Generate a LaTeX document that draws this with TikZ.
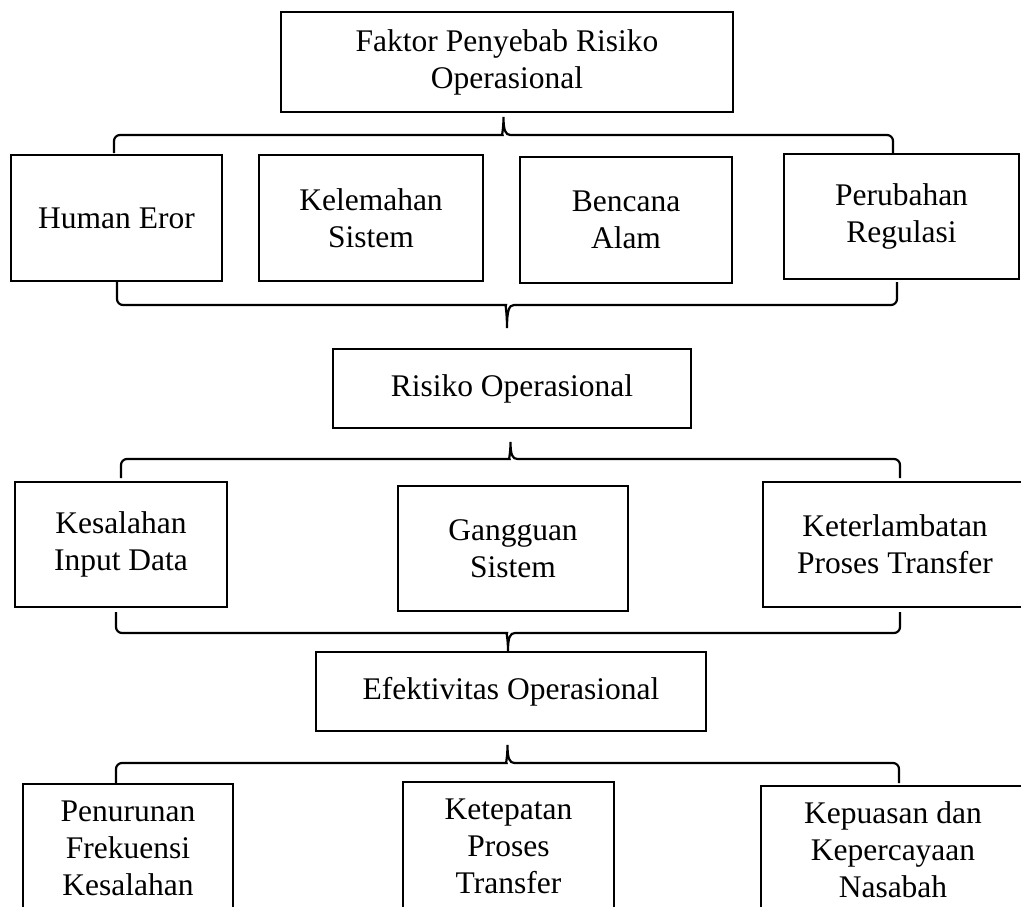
\documentclass[tikz,border=0pt]{standalone}
\usepackage{fontspec}
\setmainfont{Liberation Serif}
\begin{document}
\begin{tikzpicture}[x=1pt,y=-1pt,
  box/.style={draw, line width=2.2pt, inner sep=0pt, align=center,
    font=\fontsize{31.5}{37}\selectfont},
  bracepath/.style={draw, line width=2.2pt}]
\useasboundingbox (0,0) rectangle (1021,907);
% nodes (center, width, height)
\node[box, minimum width=452, minimum height=100] (top) at (507,62) {Faktor Penyebab Risiko\\Operasional};
\node[box, minimum width=211, minimum height=126] (he) at (116.5,218) {Human Eror};
\node[box, minimum width=224, minimum height=126] (ks) at (371,218) {Kelemahan\\Sistem};
\node[box, minimum width=212, minimum height=126] (ba) at (626,220) {Bencana\\Alam};
\node[box, minimum width=235, minimum height=125] (pr) at (901.5,216.5) {Perubahan\\Regulasi};
\node[box, minimum width=358, minimum height=79] (ro) at (512,388.5) {Risiko Operasional};
\node[box, minimum width=212, minimum height=125] (kid) at (121,544.5) {Kesalahan\\Input Data};
\node[box, minimum width=230, minimum height=125] (gs) at (513,548.5) {Gangguan\\Sistem};
\node[box, minimum width=264, minimum height=125] (kpt) at (895,544.5) {Keterlambatan\\Proses Transfer};
\node[box, minimum width=390, minimum height=79] (eo) at (511,691.5) {Efektivitas Operasional};
\node[box, minimum width=210, minimum height=128] (pf) at (128,848) {Penurunan\\Frekuensi\\Kesalahan};
\node[box, minimum width=211, minimum height=128] (kp) at (508.5,846) {Ketepatan\\Proses\\Transfer};
\node[box, minimum width=264, minimum height=128] (kk) at (893,850) {Kepuasan dan\\Kepercayaan\\Nasabah};
% brace macro: #1 x left, #2 x right, #3 y ends, #4 y horizontal, #5 y tip, #6 x tip, #7 name
\newcommand\mybrace[7]{%
  \coordinate (#7L) at (#1,#3);
  \coordinate (#7R) at (#2,#3);
  \coordinate (#7T) at (#6,#5);
  \path[bracepath] (#7L) [rounded corners=6pt] -- (#1,#4) -- ({#6-7},#4) [sharp corners]
    .. controls ({#6-2},#4) and (#6,{#4+0.25*(#5-#4)}) .. (#7T)
    .. controls (#6,{#4+0.25*(#5-#4)}) and ({#6+2},#4) .. ({#6+7},#4)
    [rounded corners=6pt] -- (#2,#4) -- (#7R);
}
\mybrace{114}{893}{153}{135}{117}{503.5}{ba}
\mybrace{117}{897}{282}{305}{328}{507}{bb}
\mybrace{121}{900}{478}{459}{442}{510.5}{bc}
\mybrace{116}{900}{612}{633}{651}{508}{bd}
\mybrace{116}{899}{783}{763}{745}{507.5}{be}
\end{tikzpicture}
\end{document}
